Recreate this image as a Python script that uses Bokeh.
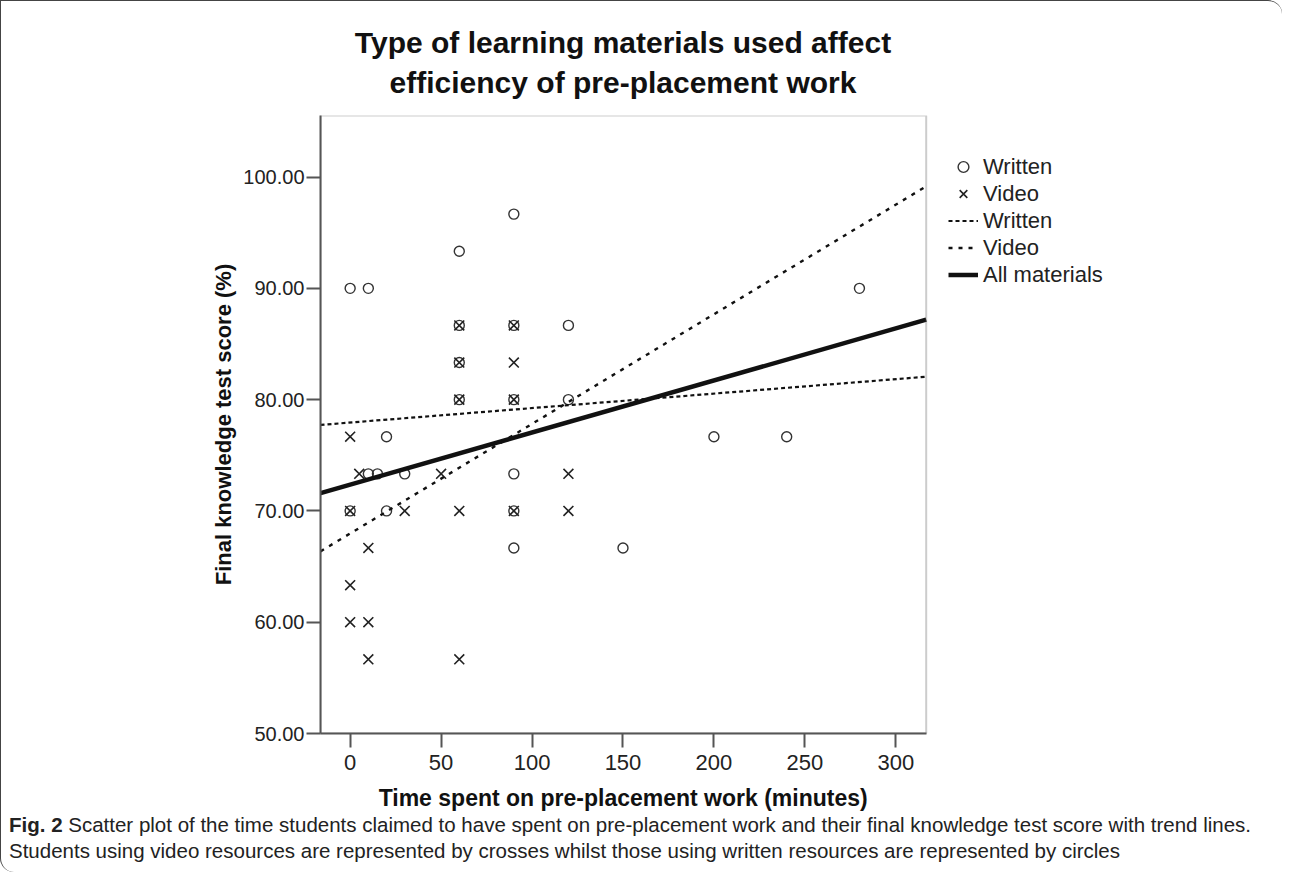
from bokeh.plotting import figure
from bokeh.layouts import column
from bokeh.models import (Range1d, FixedTicker, PrintfTickFormatter, Legend, LegendItem, Title, Div,
                          BoxAnnotation)
from bokeh.embed import file_html
from bokeh.resources import INLINE

# ---- data ----
written_time = [0, 10, 60, 90, 120, 120, 20, 10, 15, 30, 0, 20, 90, 90, 90, 150, 200, 240, 280, 60, 60, 60, 90, 90]
written_score = [90, 90, 93.33, 96.67, 86.67, 80, 76.67, 73.33, 73.33, 73.33, 70, 70, 73.33, 70, 66.67, 66.67,
                 76.67, 76.67, 90, 86.67, 83.33, 80, 86.67, 80]
video_time = [0, 5, 0, 30, 10, 0, 0, 10, 10, 50, 60, 60, 60, 60, 60, 90, 90, 90, 90, 120, 120]
video_score = [76.67, 73.33, 70, 70, 66.67, 63.33, 60, 60, 56.67, 73.33, 70, 56.67, 80, 83.33, 86.67,
               86.67, 83.33, 80, 70, 73.33, 70]

trend_names = ["Written", "Video", "All materials"]
trend_intercepts = [77.94, 67.97, 72.36]
trend_slopes = [0.0130, 0.0985, 0.0468]

x_ticks = [0, 50, 100, 150, 200, 250, 300]
y_ticks = [50, 60, 70, 80, 90, 100]

title_lines = ["Type of learning materials used affect", "efficiency of pre-placement work"]
x_title = "Time spent on pre-placement work (minutes)"
y_title = "Final knowledge test score (%)"
caption_bold = "Fig. 2"
caption_lines = [
    "Scatter plot of the time students claimed to have spent on pre-placement work and their final knowledge test score with trend lines.",
    "Students using video resources are represented by crosses whilst those using written resources are represented by circles",
]

# ---- layout (page pixels) ----
OFF = 1                      # outer border (Bokeh's page template has no body margin)
TITLE_H = 100                # height of the title block above the figure
W, H = 1281, 729
TOP = OFF + TITLE_H          # page y of the figure's canvas top
FL, FT, FB = 320.0, 115.0, 733.3          # plot box edges on the page
BOX_R = 925.7                             # right edge of the drawn plot box
X0, XE = -16.3, 316.7                     # x extent of the plot box
Y0, Y1 = 50.0, 105.53
PX_PER_X = (BOX_R - FL) / (XE - X0)
FRAME_R = OFF + W - 10                    # frame extends under the legend area
X1 = X0 + (FRAME_R - FL) / PX_PER_X

FONT = "Liberation Sans"
INK = "#222222"

TITLE_W = int(round(2 * ((FL + BOX_R) / 2 - OFF)))
title_div = Div(
    text=(f"<div style=\"width:{TITLE_W}px; padding-top:22px; "
          "font-family:'Liberation Sans', Arial, sans-serif; font-weight:bold; font-size:30px; "
          "line-height:40px; text-align:center; color:#111111;\">"
          f"{title_lines[0]}<br>{title_lines[1]}</div>"),
    width=TITLE_W, height=TITLE_H, margin=0)

p = figure(width=W, height=H, x_range=Range1d(X0, X1), y_range=Range1d(Y0, Y1),
           output_backend="svg", toolbar_location=None,
           min_border_left=int(round(FL - OFF)), min_border_top=int(round(FT - TOP)),
           min_border_right=10, min_border_bottom=int(round(H - (FB - TOP))))
p.title.visible = False
p.grid.visible = False
p.outline_line_color = None
p.background_fill_color = "white"
p.border_fill_color = "white"

# plot box (top/right border of the SPSS chart)
p.add_layout(BoxAnnotation(left=X0, right=XE, bottom=Y0, top=Y1, fill_alpha=0,
                           line_color="#555555", line_width=2))

for ax in (p.xaxis[0], p.yaxis[0]):
    ax.axis_line_color = "#555555"
    ax.axis_line_width = 2
    ax.major_tick_line_color = "#555555"
    ax.major_tick_line_width = 2
    ax.major_tick_out = 14
    ax.major_tick_in = 0
    ax.minor_tick_line_color = None
    ax.major_label_text_font = FONT
    ax.major_label_text_color = INK
    ax.axis_label_text_font = FONT
    ax.axis_label_text_font_style = "bold"
    ax.axis_label_text_color = "#111111"

p.xaxis.bounds = (X0, XE)
p.xaxis.ticker = FixedTicker(ticks=x_ticks)
p.yaxis.ticker = FixedTicker(ticks=y_ticks)
p.yaxis.formatter = PrintfTickFormatter(format="%.2f")
p.xaxis.major_label_text_font_size = "22px"
p.yaxis.major_label_text_font_size = "20px"
p.xaxis.major_label_standoff = 7
p.yaxis.major_label_standoff = 2
p.yaxis.axis_label = y_title
p.yaxis.axis_label_text_font_size = "22px"
p.yaxis.axis_label_standoff = 4

XL_PX = 23
xlab = Title(text=x_title, align="left", offset=(BOX_R - FL) / 2 - 21.28 * XL_PX / 2,
             text_font=FONT, text_font_style="bold", text_font_size=f"{XL_PX}px",
             text_color="#111111", standoff=20)
p.add_layout(xlab, "below")

r_w = p.scatter(written_time, written_score, marker="circle", size=10, fill_color=None,
                line_color="#333333", line_width=1.4)
r_v = p.scatter(video_time, video_score, marker="x", size=14, line_color="#222222", line_width=1.6)

styles = {"Written": dict(line_dash="4 3", line_width=2.2),
          "Video": dict(line_dash="4 6", line_width=2.4),
          "All materials": dict(line_dash="solid", line_width=4.5)}
trend_r = []
for name, b0, b1 in zip(trend_names, trend_intercepts, trend_slopes):
    xs = [X0, XE]
    ys = [b0 + b1 * X0, b0 + b1 * XE]
    trend_r.append(p.line(xs, ys, line_color="#111111", **styles[name]))

ROW = 27
legend_bottom_page = 167 - ROW / 2 + 5 * ROW
legend = Legend(items=[LegendItem(label="Written", renderers=[r_w]),
                       LegendItem(label="Video", renderers=[r_v]),
                       LegendItem(label="Written", renderers=[trend_r[0]]),
                       LegendItem(label="Video", renderers=[trend_r[1]]),
                       LegendItem(label="All materials", renderers=[trend_r[2]])],
                location=(int(round(948 - FL)), int(round(FB - legend_bottom_page))),
                border_line_color=None, background_fill_alpha=0, padding=0, margin=0,
                spacing=0, glyph_width=30, glyph_height=ROW, label_height=ROW, label_standoff=5,
                label_text_font=FONT, label_text_font_size="22px", label_text_color=INK)
p.add_layout(legend)

caption = Div(text=f"<b>{caption_bold}</b> {caption_lines[0]}<br>{caption_lines[1]}",
              width=W - 12, margin=(-18, 0, 0, 8),
              styles={"font-family": "'Liberation Sans', Arial, sans-serif", "font-size": "20.5px",
                      "line-height": "26px", "color": "#222222", "white-space": "nowrap"})

page = column(title_div, p, caption,
              styles={"border-top": "1px solid #444", "border-left": "1px solid #444",
                      "border-top-right-radius": "14px", "border-bottom-left-radius": "14px",
                      "padding-bottom": "8px"})

open("out.html", "w").write(file_html(page, INLINE))
